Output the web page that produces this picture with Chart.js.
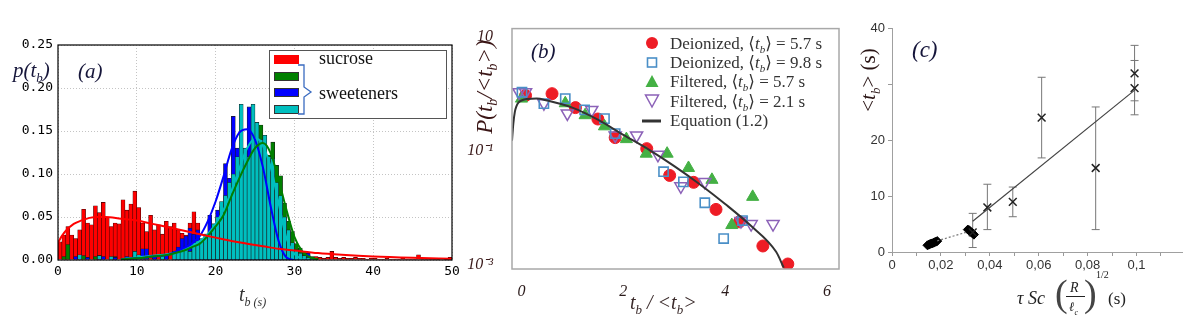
<!DOCTYPE html>
<html>
<head>
<meta charset="utf-8">
<script src="https://cdn.jsdelivr.net/npm/chart.js@4.4.1/dist/chart.umd.min.js"></script>
<style>
  body { margin: 0; background: #fff; }
  #fig { position: relative; width: 1189px; height: 328px; overflow: hidden; font-family: 'Liberation Serif', 'DejaVu Serif', serif; }
  #fig canvas { position: absolute; top: 0; }
  .lbl { position: absolute; white-space: nowrap; line-height: 1; }
  .it { font-style: italic; }
  .rot { transform: translate(-50%, -50%) rotate(-90deg); }
  .sw { position: absolute; width: 23px; height: 7px; border: 1px solid #333; }
  sub, sup { line-height: 0; }
</style>
</head>
<body>
<div id="fig">
  <canvas id="chartA" width="470" height="328" style="left:0"></canvas>
  <canvas id="chartB" width="395" height="328" style="left:455px"></canvas>
  <canvas id="chartC" width="339" height="328" style="left:850px"></canvas>

  <!-- panel (a) -->
  <div class="lbl it" style="left:13px;top:60px;font-size:21px;color:#16163a">p(t<sub style="font-size:13px">b</sub>)</div>
  <div class="lbl it" style="left:78px;top:61px;font-size:21px;color:#16163a">(a)</div>
  <div style="position:absolute;left:269px;top:50px;width:176px;height:67px;border:1px solid #555;background:#fff"></div>
  <div class="sw" style="left:274px;top:55px;background:#ff0000;border-color:#ff0000"></div>
  <div class="sw" style="left:274px;top:72px;background:#008000"></div>
  <div class="sw" style="left:274px;top:88px;background:#0000ff"></div>
  <div class="sw" style="left:274px;top:105px;background:#00bfbf"></div>
  <svg style="position:absolute;left:296px;top:63px" width="20" height="54">
    <path d="M2,2 H8 V24 L15,29 L8,34 V51 H2" fill="none" stroke="#3a6bc0" stroke-width="1.3"/>
  </svg>
  <div class="lbl" style="left:319px;top:49px;font-size:18px;color:#111">sucrose</div>
  <div class="lbl" style="left:319px;top:84px;font-size:18px;color:#111">sweeteners</div>
  <div class="lbl it" style="left:239px;top:284px;font-size:20px;color:#333">t<sub style="font-size:12px">b (s)</sub></div>

  <!-- panel (b) -->
  <div class="lbl it" style="left:531px;top:41px;font-size:21px;color:#15153a">(b)</div>
  <div class="lbl it rot" style="left:484px;top:87px;font-size:23px;color:#3a1515">P(t<sub style="font-size:14px">b</sub>/&lt;t<sub style="font-size:14px">b</sub>&gt;)</div>
  <div class="lbl it" style="left:630px;top:292px;font-size:20px;color:#3a2a2a">t<sub style="font-size:13px">b</sub> / &lt;t<sub style="font-size:13px">b</sub>&gt;</div>
  <svg style="position:absolute;left:644px;top:35px" width="18" height="96">
    <circle cx="8" cy="8" r="6" fill="#ee1c25"/>
    <rect x="3.5" y="23" width="9" height="9" fill="none" stroke="#4a8fc7" stroke-width="1.6"/>
    <polygon points="8,40 14.5,52 1.5,52" fill="#44b044"/>
    <polygon points="1.5,60 14.5,60 8,72" fill="none" stroke="#8c62b8" stroke-width="1.5"/>
  </svg>
  <svg style="position:absolute;left:641px;top:117px" width="22" height="8">
    <line x1="1" y1="4" x2="20" y2="4" stroke="#333" stroke-width="3"/>
  </svg>
  <div class="lbl" style="left:670px;top:35px;font-size:17px;color:#333">Deionized, ⟨<i>t</i><sub style="font-size:11px"><i>b</i></sub>⟩ = 5.7 s</div>
  <div class="lbl" style="left:670px;top:54px;font-size:17px;color:#333">Deionized, ⟨<i>t</i><sub style="font-size:11px"><i>b</i></sub>⟩ = 9.8 s</div>
  <div class="lbl" style="left:670px;top:73px;font-size:17px;color:#333">Filtered, ⟨<i>t</i><sub style="font-size:11px"><i>b</i></sub>⟩ = 5.7 s</div>
  <div class="lbl" style="left:670px;top:93px;font-size:17px;color:#333">Filtered, ⟨<i>t</i><sub style="font-size:11px"><i>b</i></sub>⟩ = 2.1 s</div>
  <div class="lbl" style="left:670px;top:112px;font-size:17px;color:#333">Equation (1.2)</div>

  <!-- panel (c) -->
  <div class="lbl it" style="left:912px;top:38px;font-size:23px;color:#15153a">(c)</div>
  <div class="lbl rot" style="left:868px;top:80px;font-size:21px;color:#2a1515">&lt;<i>t</i><sub style="font-size:13px"><i>b</i></sub>&gt; (s)</div>
  <div class="lbl it" style="left:1017px;top:289px;font-size:18px;color:#222">τ Sc</div>
  <div class="lbl" style="left:1055px;top:274px;font-size:38px;color:#444">(</div>
  <div class="lbl it" style="left:1070px;top:281px;font-size:14px;color:#222">R</div>
  <div style="position:absolute;left:1066px;top:296px;width:19px;height:1px;background:#222"></div>
  <div class="lbl it" style="left:1069px;top:300px;font-size:13px;color:#222">ℓ<sub style="font-size:8px">c</sub></div>
  <div class="lbl" style="left:1084px;top:274px;font-size:38px;color:#444">)</div>
  <div class="lbl" style="left:1096px;top:270px;font-size:10px;color:#222">1/2</div>
  <div class="lbl" style="left:1108px;top:290px;font-size:17px;color:#222">(s)</div>
</div>

<script>
// ---------- panel (a): histograms of bubble time, bins of 0.5 s ----------
const binWidth = 0.5;
const xTickValsA = [0, 10, 20, 30, 40, 50];
const xTicksA = ['0', '10', '20', '30', '40', '50'];
const yTickValsA = [0, 0.05, 0.10, 0.15, 0.20, 0.25];
const yTicksA = ['0.00', '0.05', '0.10', '0.15', '0.20', '0.25'];

const sucroseHist = [
  0.021, 0.029, 0.039, 0.029, 0.025, 0.035, 0.059, 0.043, 0.041, 0.063,
  0.055, 0.067, 0.050, 0.039, 0.043, 0.042, 0.070, 0.058, 0.065, 0.080,
  0.061, 0.043, 0.033, 0.052, 0.035, 0.041, 0.030, 0.045, 0.039, 0.043,
  0.035, 0.031, 0.029, 0.043, 0.056, 0.043, 0.024, 0.020, 0.022, 0.018,
  0.020, 0.016, 0.018, 0.015, 0.016, 0.013, 0.014, 0.012, 0.012, 0.010,
  0.011, 0.009, 0.009, 0.008, 0.008, 0.007, 0.007, 0.006, 0.006, 0.005,
  0.004, 0.005, 0.003, 0.004, 0.003, 0.004, 0.003, 0.002, 0.003, 0.010,
  0.003, 0.002, 0.003, 0.002, 0.002, 0.003, 0.002, 0.002, 0.001, 0.002,
  0.002, 0.001, 0.001, 0.002, 0.001, 0.001, 0.001, 0.002, 0.001, 0.001,
  0.001, 0.006, 0.001, 0.001, 0.001, 0.001, 0.001, null, 0.001, 0.003
];
const greenHist = [
  null, 0.004, 0.018, null, null, null, 0.005, null, null, 0.004,
  null, null, null, null, 0.004, null, null, null, null, 0.005,
  null, null, null, null, null, null, 0.006, null, null, null,
  0.008, null, 0.010, 0.012, 0.014, 0.012, 0.016, 0.018, 0.022, 0.028,
  0.040, 0.050, 0.060, 0.070, 0.080, 0.090, 0.100, 0.110, 0.118, 0.128,
  0.140, 0.157, 0.130, 0.122, 0.137, 0.110, 0.098, 0.066, 0.045, 0.033,
  0.019, 0.014, 0.010, 0.006, 0.004, 0.002
];
const blueHist = [
  null, null, null, null, 0.004, null, null, 0.003, null, null,
  0.005, 0.004, null, null, 0.003, null, null, 0.004, null, 0.006,
  null, 0.013, 0.013, null, 0.004, null, null, 0.005, null, 0.008,
  0.015, 0.025, 0.028, 0.037, 0.030, 0.035, 0.022, 0.030, 0.052, 0.042,
  0.058, 0.062, 0.112, 0.095, 0.167, 0.130, 0.110, 0.100, 0.178, 0.120,
  0.090, 0.070, 0.050, 0.035, 0.020, 0.015, 0.010, 0.006, 0.005, 0.004,
  0.003, 0.003, 0.002, 0.008, 0.002, null
];
const cyanHist = [
  null, null, null, null, null, 0.006, null, null, null, null,
  0.005, null, null, 0.004, null, null, null, null, null, 0.010,
  0.006, null, null, null, null, null, 0.007, null, null, 0.010,
  0.010, 0.012, 0.015, 0.010, 0.020, 0.022, 0.025, 0.030, 0.030, 0.042,
  0.050, 0.068, 0.075, 0.090, 0.100, 0.120, 0.181, 0.130, 0.120, 0.181,
  0.160, 0.140, 0.145, 0.120, 0.118, 0.090, 0.075, 0.050, 0.035, 0.020,
  0.012, 0.008, 0.005, 0.003, 0.002, 0.001
];

const redFitX = [0, 0.5, 1, 2, 3, 4, 5, 6, 8, 10, 12, 14, 16, 18, 20, 22, 24, 26, 28, 30, 33, 36, 40, 45, 50];
const redFitY = [0.020, 0.028, 0.034, 0.042, 0.046, 0.049, 0.050, 0.050, 0.048, 0.046, 0.042, 0.038, 0.034, 0.030, 0.026, 0.022, 0.019, 0.016, 0.013, 0.011, 0.008, 0.006, 0.004, 0.0025, 0.0015];
const blueFitX = [8, 10, 12, 14, 15, 16, 17, 18, 19, 20, 21, 22, 23, 24, 25, 26, 27, 28, 29, 30];
const blueFitY = [0.001, 0.002, 0.004, 0.006, 0.010, 0.014, 0.019, 0.028, 0.045, 0.068, 0.097, 0.128, 0.148, 0.152, 0.140, 0.108, 0.062, 0.022, 0.003, 0.000];
const greenFitX = [8, 10, 12, 14, 15, 16, 17, 18, 19, 20, 21, 22, 23, 24, 25, 26, 27, 28, 29, 30, 31, 32, 33];
const greenFitY = [0.001, 0.002, 0.004, 0.006, 0.0085, 0.011, 0.015, 0.019, 0.028, 0.039, 0.052, 0.074, 0.095, 0.114, 0.130, 0.136, 0.124, 0.093, 0.058, 0.027, 0.010, 0.003, 0.001];
const cyanFitX = [8, 10, 12, 14, 16, 18, 19, 20, 21, 22, 23, 24, 25, 25.5, 26, 27, 28, 29, 30, 31];
const cyanFitY = [0.001, 0.003, 0.005, 0.007, 0.012, 0.022, 0.030, 0.042, 0.058, 0.080, 0.106, 0.130, 0.141, 0.140, 0.133, 0.108, 0.066, 0.025, 0.007, 0.001];

// ---------- panel (b): normalised distributions, log scale ----------
const xTickValsB = [0, 2, 4, 6];
const xTicksB = ['0', '2', '4', '6'];
const yTickValsB = [0.001, 0.1, 10];
const yTicksB = ['10⁻³', '10⁻¹', '10'];

const deion57X = [0.08, 0.60, 1.06, 1.50, 1.84, 2.46, 2.91, 3.38, 3.82, 4.28, 4.74, 5.23];
const deion57Y = [0.93, 1.0, 0.57, 0.36, 0.17, 0.109, 0.037, 0.028, 0.0094, 0.0057, 0.00215, 0.00104];
const deion98X = [0.01, 0.44, 0.86, 1.24, 1.63, 1.84, 2.79, 3.18, 3.60, 3.97, 4.34];
const deion98Y = [1.06, 0.67, 0.82, 0.52, 0.366, 0.2, 0.043, 0.0285, 0.0123, 0.0029, 0.006];
const filt57X = [0.0, 0.86, 1.25, 1.63, 2.06, 2.45, 2.86, 3.28, 3.74, 4.13, 4.54];
const filt57Y = [0.82, 0.68, 0.42, 0.268, 0.16, 0.089, 0.089, 0.05, 0.031, 0.005, 0.0156];
const filt21X = [-0.05, 0.08, 0.44, 0.90, 1.38, 1.84, 2.26, 2.68, 3.13, 3.60, 4.31, 4.51, 4.94];
const filt21Y = [1.06, 1.06, 0.68, 0.45, 0.52, 0.186, 0.186, 0.085, 0.0238, 0.0285, 0.0059, 0.0052, 0.0052];
const eqX = [-0.186, -0.16, -0.13, -0.10, -0.06, 0.0, 0.1, 0.3, 0.5, 1.0, 1.5, 2.0, 2.5, 3.0, 3.5, 4.0, 4.5, 5.0, 5.15];
const eqY = [0.15, 0.30, 0.48, 0.60, 0.70, 0.76, 0.81, 0.82, 0.76, 0.57, 0.35, 0.19, 0.105, 0.054, 0.026, 0.0117, 0.0049, 0.0017, 0.0009];

// ---------- panel (c): mean bubble time vs time scale ----------
const xTickValsC = [0, 0.01, 0.02, 0.03, 0.04, 0.05, 0.06, 0.07, 0.08, 0.09, 0.1, 0.11];
const xTicksC = ['0', '', '0,02', '', '0,04', '', '0,06', '', '0,08', '', '0,1', ''];
const yTickValsC = [0, 10, 20, 30, 40];
const yTicksC = ['0', '10', '20', '', '40'];

const crossX = [0.033, 0.039, 0.0494, 0.0612, 0.0833, 0.0992, 0.0992];
const crossY = [3.5, 7.95, 8.95, 24.0, 15.0, 31.9, 29.25];
const crossLo = [0.8, 4.0, 6.3, 16.8, 4.0, 27.0, 24.5];
const crossHi = [6.9, 12.1, 11.6, 31.2, 25.9, 36.9, 34.2];
const diamondX = [0.0145, 0.015, 0.0155, 0.016, 0.0165, 0.017, 0.0175, 0.018, 0.0185, 0.031, 0.0315, 0.032, 0.0325, 0.033, 0.0335];
const diamondY = [1.2, 1.3, 1.4, 1.5, 1.55, 1.65, 1.75, 1.85, 1.95, 4.0, 3.9, 3.7, 3.5, 3.3, 3.1];
const fitX = [0.033, 0.0995];
const fitY = [5.5, 29.0];
const dotX = [0.0185, 0.031];
const dotY = [2.0, 3.6];

// ---------- helpers ----------
const pts = (xs, ys) => xs.map((x, i) => ({x: x, y: ys[i]}));
const bins = vals => vals.map((v, i) => v == null ? null : {x: i * binWidth + binWidth / 2, y: v}).filter(p => p);
const setTicks = vals => scale => { scale.ticks = vals.map(v => ({value: v})); };

function frame(color, width) {
  return {
    id: 'frame',
    afterDraw(chart) {
      const {ctx, chartArea: a} = chart;
      ctx.save();
      ctx.strokeStyle = color;
      ctx.lineWidth = width;
      ctx.strokeRect(a.left, a.top, a.right - a.left, a.bottom - a.top);
      ctx.restore();
    }
  };
}

function histSet(vals, color, order, edge) {
  return {
    type: 'bar', data: bins(vals), backgroundColor: color,
    borderColor: edge, borderWidth: 0.6, grouped: false,
    barPercentage: 1, categoryPercentage: 1, order: order
  };
}
function fitSet(xs, ys, color) {
  return {
    type: 'line', data: pts(xs, ys), borderColor: color, borderWidth: 2,
    pointRadius: 0, cubicInterpolationMode: 'monotone', order: 0
  };
}

Chart.defaults.animation = false;
Chart.defaults.responsive = false;
Chart.defaults.plugins.legend.display = false;
Chart.defaults.plugins.tooltip.enabled = false;

// panel (a)
new Chart(document.getElementById('chartA'), {
  type: 'bar',
  data: {
    datasets: [
      fitSet(redFitX, redFitY, '#ff0000'),
      fitSet(greenFitX, greenFitY, '#008000'),
      fitSet(blueFitX, blueFitY, '#0000ff'),
      fitSet(cyanFitX, cyanFitY, '#00bfbf'),
      histSet(cyanHist, '#00bfbf', 1, '#1a1a1a'),
      histSet(blueHist, '#0000ff', 2, '#1a1a1a'),
      histSet(greenHist, '#008000', 3, '#1a1a1a'),
      histSet(sucroseHist, '#ff0000', 4, '#3a0000')
    ]
  },
  options: {
    layout: {padding: {left: 0, top: 45, right: 18, bottom: 48}},
    scales: {
      x: {
        type: 'linear', min: 0, max: 50, offset: false,
        grid: {offset: false, color: '#c4c4c4', drawTicks: false},
        border: {display: false, dash: [1, 2]},
        afterBuildTicks: setTicks(xTickValsA),
        afterFit: s => { s.height = 20; },
        ticks: {autoSkip: false, maxRotation: 0, padding: 4, color: '#000',
          font: {family: 'DejaVu Sans Mono', size: 13},
          callback: (v, i) => xTicksA[i]}
      },
      y: {
        min: 0, max: 0.25,
        grid: {color: '#c4c4c4', drawTicks: false},
        border: {display: false, dash: [1, 2]},
        afterBuildTicks: setTicks(yTickValsA),
        afterFit: s => { s.width = 58; },
        ticks: {autoSkip: false, padding: 5, color: '#000',
          font: {family: 'DejaVu Sans Mono', size: 13},
          callback: (v, i) => yTicksA[i]}
      }
    }
  },
  plugins: [frame('#000', 1.2)]
});

// panel (b)
function markSet(xs, ys, style) {
  return Object.assign({data: pts(xs, ys), showLine: false, order: 1}, style);
}
new Chart(document.getElementById('chartB'), {
  type: 'scatter',
  data: {
    datasets: [
      {type: 'line', data: pts(eqX, eqY), borderColor: '#333', borderWidth: 2,
        pointRadius: 0, cubicInterpolationMode: 'monotone', order: 0},
      markSet(deion98X, deion98Y, {pointStyle: 'rect', pointRadius: 6.5,
        backgroundColor: 'rgba(255,255,255,0)', borderColor: '#4a8fc7', borderWidth: 1.6}),
      markSet(filt21X, filt21Y, {pointStyle: 'triangle', pointRotation: 180, pointRadius: 7,
        backgroundColor: 'rgba(255,255,255,0)', borderColor: '#8c62b8', borderWidth: 1.5}),
      markSet(filt57X, filt57Y, {pointStyle: 'triangle', pointRadius: 7,
        backgroundColor: '#44b044', borderColor: '#44b044', borderWidth: 1}),
      markSet(deion57X, deion57Y, {pointStyle: 'circle', pointRadius: 6,
        backgroundColor: '#ee1c25', borderColor: '#ee1c25', borderWidth: 1})
    ]
  },
  options: {
    layout: {padding: {left: 0, top: 28, right: 11, bottom: 19}},
    scales: {
      x: {
        type: 'linear', min: -0.186, max: 6.235,
        grid: {display: true, drawOnChartArea: false, drawTicks: false},
        border: {display: false},
        afterBuildTicks: setTicks(xTickValsB),
        afterFit: s => { s.height = 40; },
        ticks: {display: true, autoSkip: false, maxRotation: 0, padding: 13, color: '#2a1a1a',
          font: {family: 'Liberation Serif', size: 16, style: 'italic'},
          callback: (v, i) => xTicksB[i]}
      },
      y: {
        type: 'logarithmic', min: 0.00085, max: 13.8,
        grid: {display: true, drawOnChartArea: false, drawTicks: false},
        border: {display: false},
        afterBuildTicks: setTicks(yTickValsB),
        afterFit: s => { s.width = 57; },
        ticks: {autoSkip: false, padding: 19, color: '#3a1a1a',
          font: {family: 'Liberation Serif', size: 16, style: 'italic'},
          callback: (v, i) => yTicksB[i]}
      }
    }
  },
  plugins: [frame('#a8a8a8', 1.5)]
});

// panel (c)
const errPts = [];
crossX.forEach((x, i) => {
  errPts.push({x: x, y: crossLo[i]}, {x: x, y: crossHi[i]}, {x: x, y: null});
});
new Chart(document.getElementById('chartC'), {
  type: 'scatter',
  data: {
    datasets: [
      {type: 'line', data: pts(fitX, fitY), borderColor: '#444', borderWidth: 1.2, pointRadius: 0},
      {type: 'line', data: pts(dotX, dotY), borderColor: '#777', borderWidth: 1.2,
        borderDash: [2, 2], pointRadius: 0},
      {data: pts(crossX, crossY), pointStyle: 'crossRot', pointRadius: 5.5,
        borderColor: '#222', borderWidth: 1.5},
      {data: pts(diamondX, diamondY), pointStyle: 'rectRot', pointRadius: 4.5,
        backgroundColor: '#000', borderColor: '#000', borderWidth: 1},
      {type: 'line', data: errPts, borderColor: '#777', borderWidth: 1, spanGaps: false,
        pointStyle: 'line', pointRadius: 4, pointBorderColor: '#777', pointBorderWidth: 1}
    ]
  },
  options: {
    layout: {padding: {left: 0, top: 28, right: 6, bottom: 56}},
    scales: {
      x: {
        type: 'linear', min: 0, max: 0.1186,
        grid: {drawOnChartArea: false, tickLength: 4, color: '#999'},
        border: {color: '#a0a0a0', width: 1},
        afterBuildTicks: setTicks(xTickValsC),
        afterFit: s => { s.height = 20; },
        ticks: {autoSkip: false, maxRotation: 0, padding: 2, color: '#333',
          font: {family: 'Liberation Sans', size: 13},
          callback: (v, i) => xTicksC[i]}
      },
      y: {
        min: 0, max: 40,
        grid: {drawOnChartArea: false, tickLength: 4, color: '#999'},
        border: {color: '#a0a0a0', width: 1},
        afterBuildTicks: setTicks(yTickValsC),
        afterFit: s => { s.width = 42; },
        ticks: {autoSkip: false, padding: 3, color: '#333',
          font: {family: 'Liberation Sans', size: 13},
          callback: (v, i) => yTicksC[i]}
      }
    }
  }
});
</script>
</body>
</html>
